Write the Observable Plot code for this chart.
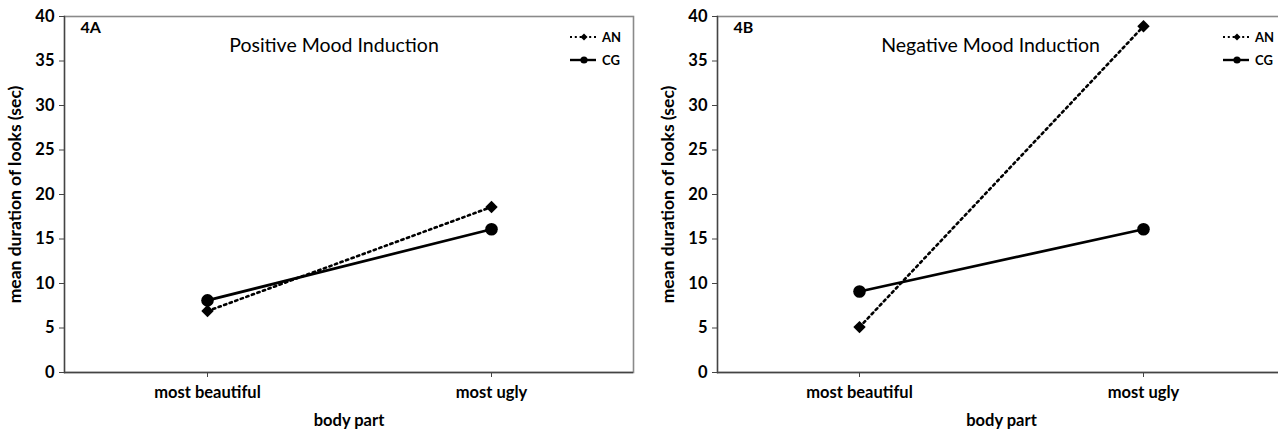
<!DOCTYPE html>
<html><head><meta charset="utf-8">
<script src="https://cdn.jsdelivr.net/npm/d3@7"></script>
<script src="https://cdn.jsdelivr.net/npm/@observablehq/plot@0.6"></script>
<style>
body{margin:0;overflow:hidden;background:#fff;font-family:Lato,sans-serif}
#wrap{position:relative;width:1278px;height:431px;overflow:hidden;background:#fff}
.panel{position:absolute;top:0}
.panel svg{max-width:none !important}
</style></head><body><div id="wrap"></div>
<script>
const categories = ["most beautiful", "most ugly"];
const groups = ["AN", "CG"];
const positiveAN = [6.9, 18.6];
const positiveCG = [8.1, 16.1];
const negativeAN = [5.1, 38.9];
const negativeCG = [9.1, 16.1];
const yTicks = [0, 5, 10, 15, 20, 25, 30, 35, 40];
const yLabel = "mean duration of looks (sec)";
const xLabel = "body part";
const panelTags = ["4A", "4B"];
const panelTitles = ["Positive Mood Induction", "Negative Mood Induction"];

const panels = [
  {tag: panelTags[0], title: panelTitles[0], AN: positiveAN, CG: positiveCG, left: 0, width: 640, ml: 64, mr: 7, tdx: -15},
  {tag: panelTags[1], title: panelTitles[1], AN: negativeAN, CG: negativeCG, left: 640, width: 646, ml: 77, mr: 1, tdx: -11}
];

const wrap = document.getElementById("wrap");
const font = "Lato, 'Open Sans', sans-serif";

for (const p of panels) {
  const rows = groups.flatMap(g => categories.map((c, i) => ({group: g, category: c, value: p[g][i]})));
  const an = rows.filter(d => d.group === "AN");
  const cg = rows.filter(d => d.group === "CG");
  const chart = Plot.plot({
    width: p.width, height: 431,
    marginLeft: p.ml, marginRight: p.mr, marginTop: 16, marginBottom: 59,
    style: {fontFamily: font, background: "white", color: "black", maxWidth: "none"},
    x: {type: "point", domain: categories, padding: 0.5},
    y: {domain: [0, 40]},
    marks: [
      Plot.frame({stroke: "#8a8a8a", strokeWidth: 1.6}),
      Plot.frame({anchor: "left", stroke: "#444", strokeWidth: 1.3}),
      Plot.ruleY([0], {stroke: "#444", strokeWidth: 1.3}),
      Plot.axisY({ticks: yTicks, tickSize: 5, tickPadding: 5, fontSize: 16.5, fontWeight: "bold", stroke: "#444", label: null}),
      Plot.axisX({tickSize: 5, tickPadding: 9, fontSize: 16.5, fontWeight: "bold", stroke: "#444", label: null}),
      Plot.text([yLabel], {frameAnchor: "left", dx: -49, rotate: -90, fontSize: 17.5, fontWeight: "bold", textAnchor: "middle", lineAnchor: "middle"}),
      Plot.text([xLabel], {frameAnchor: "bottom", dy: 48, fontSize: 16.5, fontWeight: "bold", lineAnchor: "middle"}),
      Plot.text([p.tag], {frameAnchor: "top-left", dx: 16, dy: 11, fontSize: 16, fontWeight: "bold", textAnchor: "start", lineAnchor: "middle"}),
      Plot.text([p.title], {frameAnchor: "top", dx: p.tdx, dy: 29, fontSize: 19.5, lineAnchor: "middle"}),
      Plot.line(an, {x: "category", y: "value", stroke: "black", strokeWidth: 2.6, strokeDasharray: "2.3,3.6"}),
      Plot.line(cg, {x: "category", y: "value", stroke: "black", strokeWidth: 2.7}),
      Plot.dot(an, {x: "category", y: "value", symbol: "diamond2", r: 5.6, fill: "black"}),
      Plot.dot(cg, {x: "category", y: "value", r: 6.3, fill: "black"})
    ]
  });
  const box = document.createElement("div");
  box.className = "panel";
  box.style.left = p.left + "px";
  box.style.width = p.width + "px";
  box.appendChild(chart);
  wrap.appendChild(box);

  // legend overlay
  const lx = p.left + p.ml + 506;
  const leg = d3.create("svg").attr("width", 80).attr("height", 80)
    .style("position", "absolute").style("left", lx + "px").style("top", "0px")
    .style("font-family", font);
  const items = [
    {name: groups[0], y: 37, dash: "2,2.8", w: 2, sym: "diamond"},
    {name: groups[1], y: 60, dash: null, w: 2.4, sym: "circle"}
  ];
  for (const it of items) {
    const ln = leg.append("line").attr("x1", 0).attr("x2", 26).attr("y1", it.y).attr("y2", it.y)
      .attr("stroke", "black").attr("stroke-width", it.w);
    if (it.dash) ln.attr("stroke-dasharray", it.dash);
    if (it.sym === "circle") leg.append("circle").attr("cx", 14).attr("cy", it.y).attr("r", 3.6).attr("fill", "black");
    else leg.append("path").attr("d", d3.symbol(d3.symbolDiamond2, 32)()).attr("transform", `translate(14,${it.y})`).attr("fill", "black");
    leg.append("text").attr("x", 32).attr("y", it.y).attr("dy", "0.35em").attr("font-size", 13).attr("font-weight", "bold").text(it.name);
  }
  wrap.appendChild(leg.node());
}
</script></body></html>
